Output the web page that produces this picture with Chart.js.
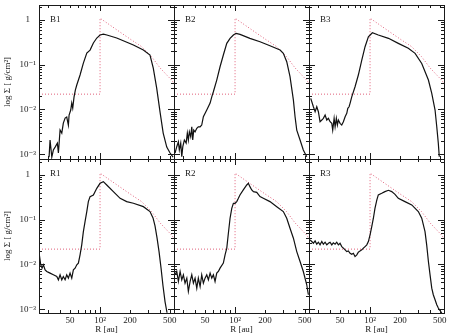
<!DOCTYPE html>
<html>
<head>
<meta charset="utf-8">
<script src="https://cdn.jsdelivr.net/npm/chart.js@4.4.1/dist/chart.umd.min.js"></script>
<style>
  body { margin: 0; background: #fff; }
  #wrap { position: relative; width: 452px; height: 336px; }
  #wrap canvas { position: absolute; left: 0; top: 0; }
</style>
</head>
<body>
<div id="wrap">
  <canvas id="b1" width="452" height="336"></canvas>
  <canvas id="b2" width="452" height="336"></canvas>
  <canvas id="b3" width="452" height="336"></canvas>
  <canvas id="r1" width="452" height="336"></canvas>
  <canvas id="r2" width="452" height="336"></canvas>
  <canvas id="r3" width="452" height="336"></canvas>
</div>
<script>
// radius R [au] and surface density [g/cm2]
const b1R = [30.8, 31.5, 32.8, 34.0, 35.4, 37.3, 38.2, 39.7, 41.3, 42.8, 44.6, 46.3, 48.1, 48.9, 50.8, 52.0, 53.2, 54.8, 56.5, 58.4, 63.0, 68.0, 73.6, 79.4, 85.7, 92.7, 100, 108, 117, 147, 216, 272, 317, 342, 370, 400, 430, 467, 504, 540];
const b1S = [0.00086, 0.00207, 0.00086, 0.00124, 0.00144, 0.00177, 0.00106, 0.00346, 0.00296, 0.00497, 0.00643, 0.00676, 0.00448, 0.0075, 0.0097, 0.0139, 0.0107, 0.0189, 0.0272, 0.0352, 0.0589, 0.109, 0.183, 0.213, 0.306, 0.396, 0.462, 0.486, 0.462, 0.396, 0.276, 0.213, 0.165, 0.0843, 0.030, 0.00875, 0.00296, 0.00144, 0.00106, 0.00086];

const b2R = [25.0, 26.0, 27.0, 27.6, 28.5, 29.2, 29.9, 31.0, 32.3, 33.2, 34.0, 34.8, 35.9, 36.8, 37.6, 38.5, 39.7, 41.3, 42.8, 44.6, 46.3, 48.1, 52.0, 56.2, 58.4, 60.6, 65.5, 70.7, 76.3, 82.6, 89.1, 96.2, 102.3, 112.2, 141, 178, 224, 283, 305, 330, 356, 385, 400, 416, 449, 484, 524];
const b2S = [0.00106, 0.00147, 0.00189, 0.00124, 0.00177, 0.000875, 0.00147, 0.00207, 0.00177, 0.00296, 0.00207, 0.00317, 0.00245, 0.0041, 0.00207, 0.00346, 0.00317, 0.00378, 0.0041, 0.0041, 0.00448, 0.00687, 0.0097, 0.0139, 0.0192, 0.0249, 0.0455, 0.0902, 0.165, 0.301, 0.39, 0.462, 0.504, 0.479, 0.39, 0.327, 0.266, 0.213, 0.18, 0.117, 0.054, 0.0162, 0.00687, 0.00346, 0.00207, 0.00124, 0.000875];

const b3R = [25.4, 27.0, 28.1, 29.2, 30.3, 31.5, 32.8, 34.0, 35.4, 36.8, 38.2, 39.7, 41.3, 42.2, 43.6, 44.6, 45.9, 47.0, 48.1, 50.0, 52.0, 54.0, 56.2, 58.4, 59.8, 61.6, 63.0, 65.5, 70.7, 76.3, 82.6, 89.1, 96.2, 105.5, 121, 153, 192, 242, 283, 330, 385, 416, 449, 467, 484, 495];
const b3S = [0.0177, 0.01148, 0.00889, 0.01148, 0.00889, 0.00531, 0.0058, 0.00632, 0.0075, 0.0058, 0.00632, 0.00531, 0.00489, 0.00346, 0.00632, 0.0041, 0.00632, 0.00448, 0.0058, 0.00489, 0.00448, 0.00531, 0.00687, 0.00818, 0.0106, 0.01148, 0.0137, 0.0192, 0.0322, 0.0589, 0.127, 0.253, 0.424, 0.52, 0.462, 0.39, 0.301, 0.233, 0.18, 0.107, 0.0455, 0.0229, 0.0097, 0.0041, 0.00175, 0.000875];

const r1R = [24.6, 25.4, 26.2, 27.0, 28.1, 29.2, 31.5, 34.0, 36.8, 38.2, 39.7, 41.3, 42.8, 44.6, 46.3, 48.1, 50.0, 52.0, 54.0, 56.2, 58.4, 60.6, 63.0, 65.5, 68.0, 70.7, 73.6, 76.3, 79.4, 85.7, 92.7, 100, 107.9, 116.7, 136, 159, 185, 216, 272, 317, 340, 356, 373, 391, 409, 428, 449, 470];
const r1S = [0.0164, 0.0098, 0.00826, 0.0098, 0.00757, 0.00695, 0.00638, 0.00586, 0.00537, 0.00453, 0.00586, 0.00453, 0.00537, 0.00453, 0.00586, 0.00494, 0.00638, 0.00494, 0.00757, 0.00826, 0.0098, 0.0107, 0.0164, 0.0274, 0.0543, 0.0908, 0.152, 0.254, 0.328, 0.358, 0.504, 0.652, 0.71, 0.598, 0.425, 0.301, 0.254, 0.233, 0.196, 0.152, 0.11, 0.0727, 0.0392, 0.0191, 0.0084, 0.00333, 0.00146, 0.00083];

const r2R = [25.0, 26.0, 27.0, 28.1, 29.2, 30.3, 31.5, 32.8, 34.0, 35.4, 36.8, 38.2, 39.7, 41.3, 42.8, 44.6, 46.3, 48.1, 50.0, 52.0, 54.0, 56.2, 58.4, 60.6, 63.0, 65.5, 68.0, 70.7, 76.3, 79.4, 82.6, 85.7, 89.1, 92.7, 96.2, 100, 104, 108, 112, 121, 131, 136, 141, 147, 153, 165, 178, 192, 224, 262, 305, 330, 356, 385, 416, 449, 484, 524, 544];
const r2S = [0.00586, 0.00695, 0.00416, 0.00695, 0.00453, 0.00586, 0.00382, 0.00494, 0.00249, 0.00416, 0.00586, 0.00382, 0.00494, 0.00295, 0.00494, 0.00321, 0.00586, 0.00382, 0.00494, 0.00586, 0.00453, 0.00638, 0.00494, 0.00586, 0.00416, 0.00638, 0.00695, 0.00826, 0.0107, 0.0164, 0.0231, 0.0499, 0.108, 0.18, 0.233, 0.233, 0.254, 0.301, 0.358, 0.463, 0.598, 0.652, 0.549, 0.463, 0.425, 0.41, 0.328, 0.301, 0.254, 0.196, 0.152, 0.108, 0.0646, 0.0386, 0.0194, 0.0116, 0.00695, 0.00351, 0.0021];

const r3R = [25.0, 26.0, 27.0, 28.1, 29.2, 30.3, 31.5, 32.8, 34.0, 35.4, 36.8, 38.2, 39.7, 41.3, 42.8, 44.6, 46.3, 48.1, 50.0, 52.0, 54.0, 56.2, 58.4, 60.6, 63.0, 65.5, 68.0, 70.7, 73.6, 76.3, 79.4, 82.6, 85.7, 89.1, 92.7, 96.2, 100, 104, 108, 112, 117, 121, 131, 141, 153, 165, 178, 192, 224, 262, 305, 330, 356, 370, 385, 400, 416, 431, 449, 467, 484, 524];
const r3S = [0.0354, 0.0325, 0.0298, 0.0336, 0.0283, 0.0314, 0.0274, 0.0325, 0.0283, 0.0314, 0.0274, 0.0298, 0.0314, 0.0274, 0.0304, 0.0283, 0.0314, 0.0274, 0.0298, 0.0251, 0.0231, 0.0212, 0.0194, 0.0201, 0.0178, 0.0169, 0.0178, 0.015, 0.0164, 0.0188, 0.0201, 0.0212, 0.0231, 0.0251, 0.0274, 0.0325, 0.0458, 0.0703, 0.108, 0.18, 0.277, 0.358, 0.39, 0.425, 0.455, 0.425, 0.37, 0.301, 0.254, 0.214, 0.152, 0.108, 0.0543, 0.0274, 0.0116, 0.00586, 0.00295, 0.0021, 0.00162, 0.00125, 0.00106, 0.00082];

// initial (reference) profile, dotted, same in every panel
const refR = [24.4, 100, 100, 150, 200, 262, 330, 400, 470, 524, 552];
const refS = [0.022, 0.022, 1.1, 0.587, 0.377, 0.253, 0.15, 0.085, 0.058, 0.045, 0.038];

const xTicks = [30, 40, 50, 60, 70, 80, 90, 100, 200, 300, 400, 500];
const xLabels = {50: '50', 100: '10²', 200: '200', 500: '500'};
const yTicks = [0.001, 0.002, 0.003, 0.004, 0.005, 0.006, 0.007, 0.008, 0.009,
                0.01, 0.02, 0.03, 0.04, 0.05, 0.06, 0.07, 0.08, 0.09,
                0.1, 0.2, 0.3, 0.4, 0.5, 0.6, 0.7, 0.8, 0.9, 1, 2];
const yLabels = {1: '1', 0.1: '10⁻¹', 0.01: '10⁻²', 0.001: '10⁻³'};

const panels = [
  {id: 'b1', name: 'B1', R: b1R, S: b1S, col: 0, row: 0},
  {id: 'b2', name: 'B2', R: b2R, S: b2S, col: 1, row: 0},
  {id: 'b3', name: 'B3', R: b3R, S: b3S, col: 2, row: 0},
  {id: 'r1', name: 'R1', R: r1R, S: r1S, col: 0, row: 1},
  {id: 'r2', name: 'R2', R: r2R, S: r2S, col: 1, row: 1},
  {id: 'r3', name: 'R3', R: r3R, S: r3S, col: 2, row: 1}
];

const W = 452, H = 336;
const colEdges = [39, 174, 309, 444];
const rowEdges = [5, 159, 313];
const yRange = [[0.00078, 2.17], [0.00082, 2.28]];

Chart.defaults.font.family = '"Liberation Serif", "DejaVu Serif", serif';
Chart.defaults.font.size = 9;
Chart.defaults.color = '#1a1a1a';

function noPad(s) {
  s.paddingTop = s.paddingBottom = s.paddingLeft = s.paddingRight = 0;
}

// box, inward ticks on all four sides, panel name
const frame = {
  id: 'frame',
  afterDatasetsDraw(chart, args, opts) {
    const {ctx, chartArea: a, scales: {x, y}} = chart;
    ctx.save();
    ctx.strokeStyle = '#1a1a1a';
    ctx.lineWidth = 1;
    ctx.beginPath();
    x.ticks.forEach(t => {
      const px = Math.round(x.getPixelForValue(t.value)) + 0.5;
      const len = t.value === 100 ? 6 : 3;
      ctx.moveTo(px, a.bottom); ctx.lineTo(px, a.bottom - len);
      ctx.moveTo(px, a.top); ctx.lineTo(px, a.top + len);
    });
    y.ticks.forEach(t => {
      const py = Math.round(y.getPixelForValue(t.value)) + 0.5;
      const len = yLabels[t.value] ? 6 : 3;
      ctx.moveTo(a.left, py); ctx.lineTo(a.left + len, py);
      ctx.moveTo(a.right, py); ctx.lineTo(a.right - len, py);
    });
    ctx.stroke();
    ctx.strokeRect(a.left + 0.5, a.top + 0.5, a.right - a.left, a.bottom - a.top);
    ctx.fillStyle = '#1a1a1a';
    ctx.font = '9px "Liberation Serif", serif';
    ctx.fillText(opts.name, a.left + 11, a.top + 16.5);
    ctx.restore();
  }
};

panels.forEach(p => {
  const left = p.col === 0;
  const bottom = p.row === 1;
  new Chart(document.getElementById(p.id), {
    type: 'line',
    data: {
      datasets: [
        {
          data: p.R.map((r, i) => ({x: r, y: p.S[i]})),
          borderColor: '#111',
          borderWidth: 1.2,
          pointRadius: 0
        },
        {
          data: refR.map((r, i) => ({x: r, y: refS[i]})),
          borderColor: '#e0607a',
          borderWidth: 1,
          borderDash: [1, 2],
          pointRadius: 0
        }
      ]
    },
    options: {
      responsive: false,
      animation: false,
      events: [],
      layout: {
        padding: {
          left: left ? 0 : colEdges[p.col],
          right: W - colEdges[p.col + 1],
          top: rowEdges[p.row],
          bottom: bottom ? 0 : H - rowEdges[p.row + 1]
        }
      },
      plugins: {
        legend: {display: false},
        tooltip: {enabled: false},
        frame: {name: p.name}
      },
      scales: {
        x: {
          type: 'logarithmic',
          min: 24.4,
          max: 552,
          display: bottom,
          grid: {display: false, drawTicks: false},
          border: {display: false},
          afterBuildTicks: s => { s.ticks = xTicks.map(v => ({value: v})); },
          afterFit: s => { s.height = bottom ? 23 : 0; noPad(s); },
          ticks: {autoSkip: false, maxRotation: 0, padding: 2, callback: v => xLabels[v] || ''},
          title: {display: true, text: 'R [au]', padding: {top: 0, bottom: 1}}
        },
        y: {
          type: 'logarithmic',
          min: yRange[p.row][0],
          max: yRange[p.row][1],
          display: left,
          grid: {display: false, drawTicks: false},
          border: {display: false},
          afterBuildTicks: s => { s.ticks = yTicks.map(v => ({value: v})); },
          afterFit: s => { s.width = left ? 39 : 0; noPad(s); },
          ticks: {autoSkip: false, crossAlign: 'center', padding: 3, callback: v => yLabels[v] || ''},
          title: {display: true, text: 'log Σ [ g/cm²]', padding: {top: 2, bottom: 0}}
        }
      }
    },
    plugins: [frame]
  });
});
</script>
</body>
</html>
